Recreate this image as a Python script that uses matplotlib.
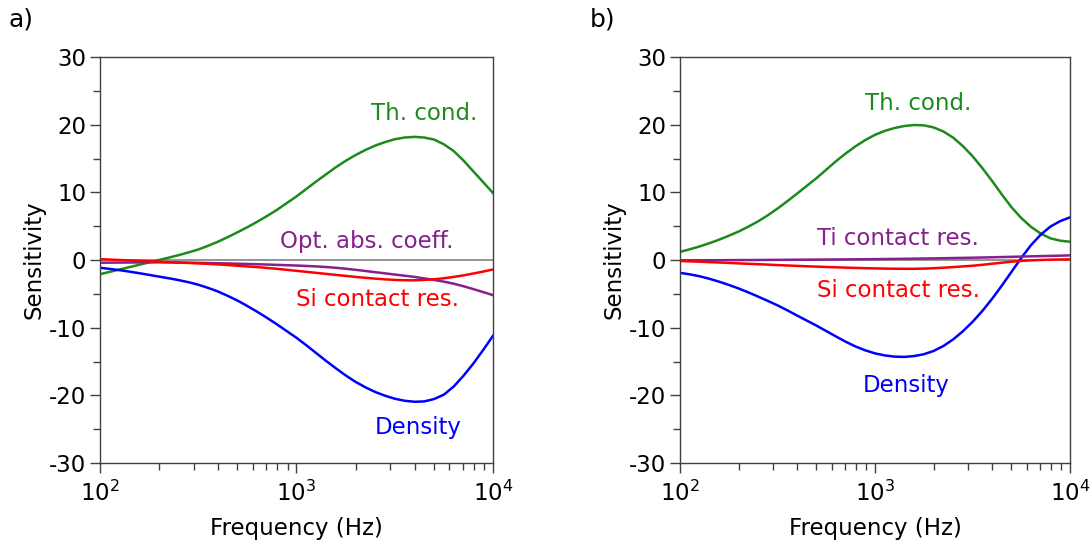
import numpy as np
import matplotlib
matplotlib.use("Agg")
import matplotlib.pyplot as plt

plt.rcParams['font.family'] = ['DejaVu Sans']
plt.rcParams['axes.unicode_minus'] = False
plt.rcParams['mathtext.default'] = 'regular'

# log10 frequency (Hz) at which the curves were read
logf = [2.00, 2.05, 2.10, 2.15, 2.20, 2.25, 2.30, 2.35, 2.40, 2.45,
        2.50, 2.55, 2.60, 2.65, 2.70, 2.75, 2.80, 2.85, 2.90, 2.95,
        3.00, 3.05, 3.10, 3.15, 3.20, 3.25, 3.30, 3.35, 3.40, 3.45,
        3.50, 3.55, 3.60, 3.65, 3.70, 3.75, 3.80, 3.85, 3.90, 3.95, 4.00]

# ---- Panel a ----
thcond_a = [-2.1, -1.75, -1.4, -1.05, -0.7, -0.35, 0.0, 0.35, 0.72, 1.12,
            1.55, 2.1, 2.7, 3.38, 4.1, 4.85, 5.65, 6.5, 7.4, 8.4,
            9.4, 10.5, 11.6, 12.65, 13.7, 14.65, 15.5, 16.25, 16.9, 17.42,
            17.85, 18.1, 18.2, 18.1, 17.8, 17.1, 16.1, 14.7, 13.1, 11.5, 9.9]
density_a = [-1.15, -1.32, -1.5, -1.72, -1.95, -2.2, -2.45, -2.7, -2.97, -3.28,
             -3.65, -4.12, -4.65, -5.3, -6.0, -6.8, -7.65, -8.55, -9.5, -10.5,
             -11.5, -12.6, -13.75, -14.9, -16.0, -17.05, -18.0, -18.8, -19.5, -20.05,
             -20.5, -20.8, -20.95, -20.9, -20.55, -19.9, -18.7, -17.1, -15.3, -13.3, -11.2]
optabs_a = [-0.4, -0.39, -0.38, -0.37, -0.36, -0.355, -0.35, -0.36, -0.38, -0.4,
            -0.42, -0.45, -0.48, -0.51, -0.55, -0.59, -0.63, -0.67, -0.72, -0.77,
            -0.82, -0.88, -0.95, -1.04, -1.15, -1.29, -1.45, -1.62, -1.8, -1.97,
            -2.15, -2.32, -2.5, -2.72, -2.95, -3.2, -3.5, -3.88, -4.3, -4.74, -5.2]
sicont_a = [0.12, 0.06, 0.0, -0.06, -0.12, -0.18, -0.25, -0.31, -0.38, -0.44,
            -0.5, -0.57, -0.65, -0.75, -0.85, -0.95, -1.05, -1.17, -1.3, -1.45,
            -1.6, -1.75, -1.9, -2.05, -2.2, -2.35, -2.5, -2.63, -2.75, -2.86,
            -2.94, -2.99, -3.0, -2.95, -2.85, -2.7, -2.5, -2.27, -2.0, -1.71, -1.4]

# ---- Panel b ----
thcond_b = [1.2, 1.58, 2.0, 2.47, 3.0, 3.58, 4.2, 4.92, 5.7, 6.6,
            7.6, 8.68, 9.8, 10.95, 12.1, 13.35, 14.6, 15.75, 16.8, 17.72,
            18.5, 19.08, 19.5, 19.8, 19.95, 19.9, 19.6, 19.0, 18.1, 16.85,
            15.35, 13.6, 11.7, 9.7, 7.8, 6.2, 4.9, 3.9, 3.2, 2.85, 2.7]
density_b = [-1.9, -2.12, -2.4, -2.77, -3.2, -3.68, -4.2, -4.78, -5.4, -6.04,
             -6.7, -7.43, -8.2, -8.95, -9.7, -10.5, -11.3, -12.08, -12.78, -13.35,
             -13.8, -14.1, -14.28, -14.32, -14.2, -13.93, -13.45, -12.72, -11.75, -10.55,
             -9.15, -7.55, -5.75, -3.8, -1.75, 0.3, 2.2, 3.75, 4.95, 5.75, 6.3]
ticont_b = [-0.05, -0.045, -0.04, -0.035, -0.03, -0.02, -0.01, -0.005, 0.0, 0.01,
            0.02, 0.03, 0.04, 0.05, 0.06, 0.07, 0.08, 0.09, 0.1, 0.115,
            0.13, 0.145, 0.16, 0.18, 0.2, 0.22, 0.24, 0.265, 0.29, 0.315,
            0.34, 0.37, 0.4, 0.435, 0.47, 0.505, 0.54, 0.575, 0.61, 0.645, 0.68]
sicont_b = [-0.15, -0.2, -0.25, -0.31, -0.37, -0.43, -0.5, -0.56, -0.62, -0.68,
            -0.75, -0.81, -0.87, -0.93, -0.98, -1.03, -1.08, -1.13, -1.17, -1.21,
            -1.24, -1.27, -1.29, -1.3, -1.3, -1.27, -1.22, -1.14, -1.05, -0.95,
            -0.85, -0.71, -0.55, -0.4, -0.25, -0.14, -0.05, 0.01, 0.05, 0.08, 0.1]

yticks = [-30, -20, -10, 0, 10, 20, 30]
xticks = [1e2, 1e3, 1e4]
xticklabels = ['$10^2$', '$10^3$', '$10^4$']

GREEN = '#1c8a1c'
BLUE = '#0000ff'
RED = '#ff0000'
PURPLE = '#86208e'

fig = plt.figure(figsize=(10.91, 5.52), dpi=100)
axa = fig.add_axes([100/1091, 89/552, 393/1091, 406/552])
axb = fig.add_axes([680/1091, 89/552, 390/1091, 406/552])

FS = 16.5

def style(ax):
    ax.set_xscale('log')
    ax.set_xlim(1e2, 1e4)
    ax.set_ylim(-30, 30)
    ax.axhline(0, color='#808080', lw=1.2, zorder=1)
    ax.set_yticks(yticks)
    ax.set_yticks(np.arange(-25, 30, 10), minor=True)
    ax.set_xticks(xticks)
    ax.set_xticklabels(xticklabels)
    ax.tick_params(axis='both', which='major', direction='out', length=7,
                   width=1, labelsize=FS, color='#404040', pad=3)
    ax.tick_params(axis='x', which='major', pad=6)
    ax.tick_params(axis='both', which='minor', direction='out', length=5,
                   width=1, color='#404040')
    ax.tick_params(top=False, right=False, which='both')
    for s in ax.spines.values():
        s.set_color('#404040')
        s.set_linewidth(1.0)
    ax.set_xlabel('Frequency (Hz)', fontsize=FS, labelpad=8)
    ax.set_ylabel('Sensitivity', fontsize=FS, labelpad=2)

f = 10 ** np.array(logf)

lw = 1.8
axa.plot(f, thcond_a, color=GREEN, lw=lw)
axa.plot(f, density_a, color=BLUE, lw=lw)
axa.plot(f, optabs_a, color=PURPLE, lw=lw)
axa.plot(f, sicont_a, color=RED, lw=lw)
style(axa)
axa.text(10**3.65, 21.6, 'Th. cond.', color=GREEN, fontsize=FS, ha='center', va='center')
axa.text(10**3.36, 2.8, 'Opt. abs. coeff.', color=PURPLE, fontsize=FS, ha='center', va='center')
axa.text(10**3.41, -5.9, 'Si contact res.', color=RED, fontsize=FS, ha='center', va='center')
axa.text(10**3.62, -24.7, 'Density', color=BLUE, fontsize=FS, ha='center', va='center')

axb.plot(f, thcond_b, color=GREEN, lw=lw)
axb.plot(f, density_b, color=BLUE, lw=lw)
axb.plot(f, ticont_b, color=PURPLE, lw=lw)
axb.plot(f, sicont_b, color=RED, lw=lw)
style(axb)
axb.text(10**3.22, 23.2, 'Th. cond.', color=GREEN, fontsize=FS, ha='center', va='center')
axb.text(10**3.12, 3.2, 'Ti contact res.', color=PURPLE, fontsize=FS, ha='center', va='center')
axb.text(10**3.12, -4.5, 'Si contact res.', color=RED, fontsize=FS, ha='center', va='center')
axb.text(10**3.16, -18.6, 'Density', color=BLUE, fontsize=FS, ha='center', va='center')

fig.text(8/1091, 1 - 20/552, 'a)', fontsize=FS + 1.5, ha='left', va='center')
fig.text(590/1091, 1 - 20/552, 'b)', fontsize=FS + 1.5, ha='left', va='center')

fig.savefig('out.png', dpi=100)
